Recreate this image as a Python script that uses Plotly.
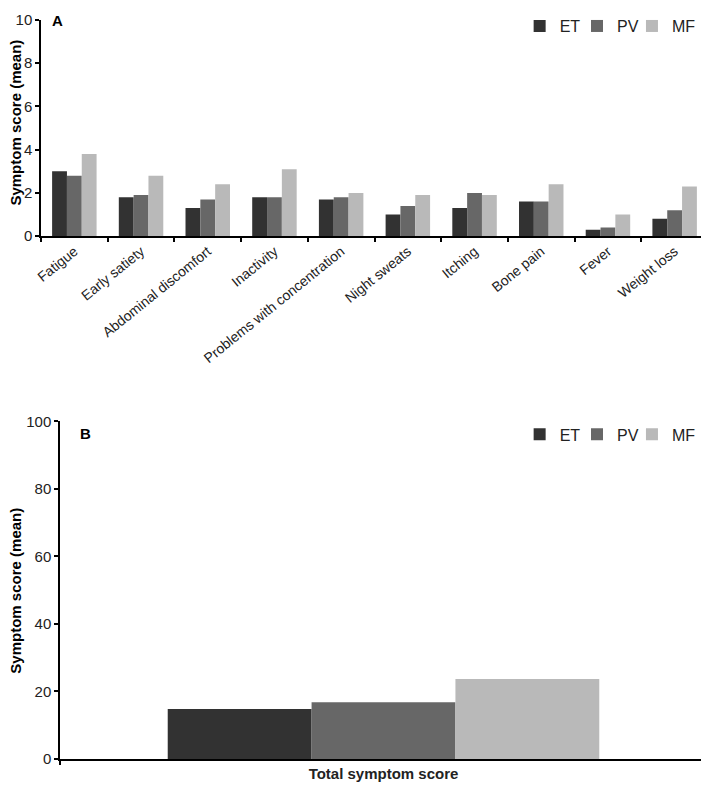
import plotly.graph_objects as go
from plotly.subplots import make_subplots

symptoms = ["Fatigue", "Early satiety", "Abdominal discomfort", "Inactivity",
            "Problems with concentration", "Night sweats", "Itching",
            "Bone pain", "Fever", "Weight loss"]
et_vals = [3.0, 1.8, 1.3, 1.8, 1.7, 1.0, 1.3, 1.6, 0.3, 0.8]
pv_vals = [2.8, 1.9, 1.7, 1.8, 1.8, 1.4, 2.0, 1.6, 0.4, 1.2]
mf_vals = [3.8, 2.8, 2.4, 3.1, 2.0, 1.9, 1.9, 2.4, 1.0, 2.3]

total_cat = ["Total symptom score"]
total_et = [14.8]
total_pv = [16.8]
total_mf = [23.7]

groups = ["ET", "PV", "MF"]
colors = {"ET": "#323232", "PV": "#676767", "MF": "#b9b9b9"}

FONT = "Liberation Sans, Arial, sans-serif"

fig = make_subplots(rows=2, cols=1)

legend_x = {"ET": 0.7176, "PV": 0.8036, "MF": 0.886}
legends_a = {"ET": "legend", "PV": "legend2", "MF": "legend3"}
legends_b = {"ET": "legend4", "PV": "legend5", "MF": "legend6"}

for g, vals in zip(groups, [et_vals, pv_vals, mf_vals]):
    fig.add_trace(go.Bar(x=symptoms, y=vals, name=g, marker_color=colors[g],
                         marker_line_width=0, legend=legends_a[g],
                         showlegend=True), row=1, col=1)
for g, vals in zip(groups, [total_et, total_pv, total_mf]):
    fig.add_trace(go.Bar(x=total_cat, y=vals, name=g, marker_color=colors[g],
                         marker_line_width=0, legend=legends_b[g],
                         showlegend=True), row=2, col=1)

axis_common = dict(showline=True, linecolor="black", linewidth=1.5,
                   ticks="outside", tickcolor="black", ticklen=4, tickwidth=1.5,
                   showgrid=False, zeroline=False, automargin=False,
                   ticklabeloverflow="allow")

title_font = dict(size=15, color="black", weight="bold")

def leg(x, y):
    return dict(orientation="h", x=x, xanchor="left", y=y, yanchor="top",
                font=dict(size=16), bgcolor="rgba(0,0,0,0)", itemwidth=30)

layout_legends = {}
for g in groups:
    layout_legends[legends_a[g]] = leg(legend_x[g], 1.0148)
    layout_legends[legends_b[g]] = leg(legend_x[g], 0.4623)

fig.update_layout(
    width=701, height=778,
    margin=dict(l=33, r=1, t=9, b=27),
    showlegend=True,
    plot_bgcolor="white", paper_bgcolor="white",
    font=dict(family=FONT, size=14, color="#222222"),
    barmode="group",
    bargap=0.333, bargroupgap=0,
    xaxis=dict(domain=[0, 1], tickson="boundaries", tickangle=-39,
               tickfont=dict(size=14), anchor="y", **axis_common),
    yaxis=dict(domain=[0.7075, 1.0], range=[0, 10], dtick=2,
               tickfont=dict(size=15), anchor="x", **axis_common),
    xaxis2=dict(domain=[0.0285, 0.9985], tickson="boundaries",
                tickfont=dict(size=15, weight="bold"), anchor="y2", **axis_common),
    yaxis2=dict(domain=[0, 0.4569], range=[0, 100], dtick=20,
                tickfont=dict(size=15), anchor="x2", **axis_common),
    annotations=[
        dict(text="<b>A</b>", x=0.0135, y=0.9987, xref="paper", yref="paper",
             xanchor="left", yanchor="middle", showarrow=False,
             font=dict(size=15, color="black")),
        dict(text="<b>B</b>", x=0.0555, y=0.4407, xref="paper", yref="paper",
             xanchor="left", yanchor="middle", showarrow=False,
             font=dict(size=15, color="black")),
        dict(text="Symptom score (mean)", textangle=-90, x=-0.0375, y=0.8612,
             xref="paper", yref="paper", xanchor="center", yanchor="middle",
             showarrow=False, font=title_font),
        dict(text="Symptom score (mean)", textangle=-90, x=-0.0375, y=0.2278,
             xref="paper", yref="paper", xanchor="center", yanchor="middle",
             showarrow=False, font=title_font),
    ],
    **layout_legends,
)
fig.write_html("out.html")
